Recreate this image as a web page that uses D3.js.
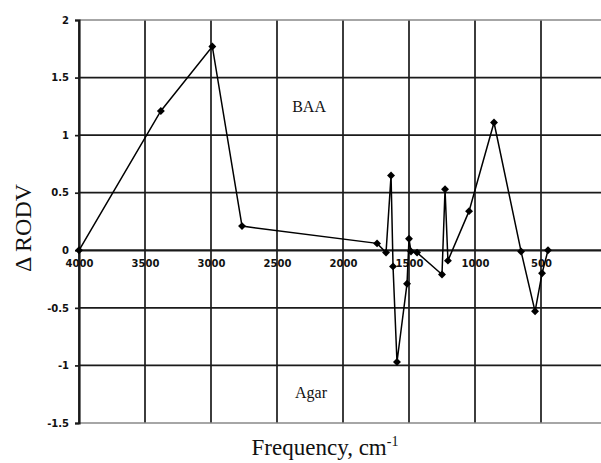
<!DOCTYPE html>
<html><head><meta charset="utf-8">
<script src="https://cdn.jsdelivr.net/npm/d3@7"></script>
<style>html,body{margin:0;padding:0;background:#fff;overflow:hidden}</style>
</head><body>
<svg id="c" width="601" height="463"></svg>
<script>
const frequency = [4000, 3380, 2990, 2765, 1742, 1674, 1636, 1621, 1591, 1515, 1500, 1485, 1439, 1250, 1227, 1205, 1045, 856, 651, 545, 492, 447];
const deltaRODV = [0, 1.21, 1.77, 0.21, 0.06, -0.02, 0.65, -0.14, -0.97, -0.29, 0.10, -0.01, -0.02, -0.21, 0.53, -0.09, 0.34, 1.11, -0.01, -0.53, -0.2, 0.0];
const xTicks = [4000, 3500, 3000, 2500, 2000, 1500, 1000, 500];
const yTicks = [2, 1.5, 1, 0.5, 0, -0.5, -1, -1.5];
const annotations = [{text: "BAA", f: 2257, v: 1.2}, {text: "Agar", f: 2242, v: -1.285}];

(function () {
const svg = d3.select("#c");
const mLeft = 79, mTop = 20, mBottom = 423, mRight = 607;
const x = d3.scaleLinear().domain([4000, 0]).range([mLeft, mRight]);
const y = d3.scaleLinear().domain([2, -1.5]).range([mTop, mBottom]);

const g = svg.append("g");
g.selectAll("line.v").data(xTicks).join("line").attr("class","v")
  .attr("x1", d => x(d)).attr("x2", d => x(d)).attr("y1", mTop).attr("y2", mBottom)
  .attr("stroke", "#1a1a1a").attr("stroke-width", 1.7);
g.selectAll("line.h").data(yTicks).join("line").attr("class","h")
  .attr("x1", mLeft).attr("x2", 601).attr("y1", d => y(d)).attr("y2", d => y(d))
  .attr("stroke", d => (d === 2 || d === -1.5) ? "#888" : "#1a1a1a")
  .attr("stroke-width", d => d === 0 ? 2.2 : 1.7);

const fmt = d => String(d);
const yAxis = d3.axisLeft(y).tickValues(yTicks).tickSize(4).tickFormat(fmt);
const ya = svg.append("g").attr("transform", `translate(${mLeft},0)`).call(yAxis);
ya.select(".domain").attr("stroke", "#1a1a1a").attr("stroke-width", 2.2);
ya.selectAll(".tick line").attr("stroke", "#1a1a1a").attr("stroke-width", 1.7);
ya.selectAll(".tick text").attr("font-family", "DejaVu Sans, sans-serif").attr("font-weight", "bold")
  .attr("font-size", 10).attr("fill", "#111").attr("x", -10);

const xAxis = d3.axisBottom(x).tickValues(xTicks).tickSize(0).tickFormat(fmt);
const xa = svg.append("g").attr("transform", `translate(0,${y(0)})`).call(xAxis);
xa.select(".domain").remove();
xa.selectAll(".tick text").attr("font-family", "DejaVu Sans, sans-serif").attr("font-weight", "bold")
  .attr("font-size", 10).attr("fill", "#111").attr("dy", "1.35em");

const pts = frequency.map((f, i) => [f, deltaRODV[i]]);
svg.append("path").datum(pts)
  .attr("d", d3.line().x(d => x(d[0])).y(d => y(d[1])))
  .attr("fill", "none").attr("stroke", "#000").attr("stroke-width", 1.5);
svg.selectAll("path.m").data(pts).join("path").attr("class","m")
  .attr("d", d3.symbol().type(d3.symbolDiamond2).size(40))
  .attr("transform", d => `translate(${x(d[0])},${y(d[1])})`)
  .attr("fill", "#000");

svg.selectAll("text.ann").data(annotations).join("text").attr("class","ann")
  .attr("x", d => x(d.f)).attr("y", d => y(d.v)).attr("text-anchor", "middle")
  .attr("font-family", "Liberation Serif, serif").attr("font-size", 16).attr("fill", "#111")
  .text(d => d.text);

svg.append("text").attr("transform", "translate(31,228) rotate(-90)").attr("text-anchor", "middle")
  .attr("font-family", "Liberation Serif, serif").attr("font-size", 24).attr("fill", "#111")
  .text("Δ RODV");
const xt = svg.append("text").attr("x", 325).attr("y", 455).attr("text-anchor", "middle")
  .attr("font-family", "Liberation Serif, serif").attr("font-size", 23).attr("fill", "#111");
xt.append("tspan").text("Frequency, cm");
xt.append("tspan").attr("dy", -9).attr("font-size", 14).text("-1");
})();
</script>
</body></html>
